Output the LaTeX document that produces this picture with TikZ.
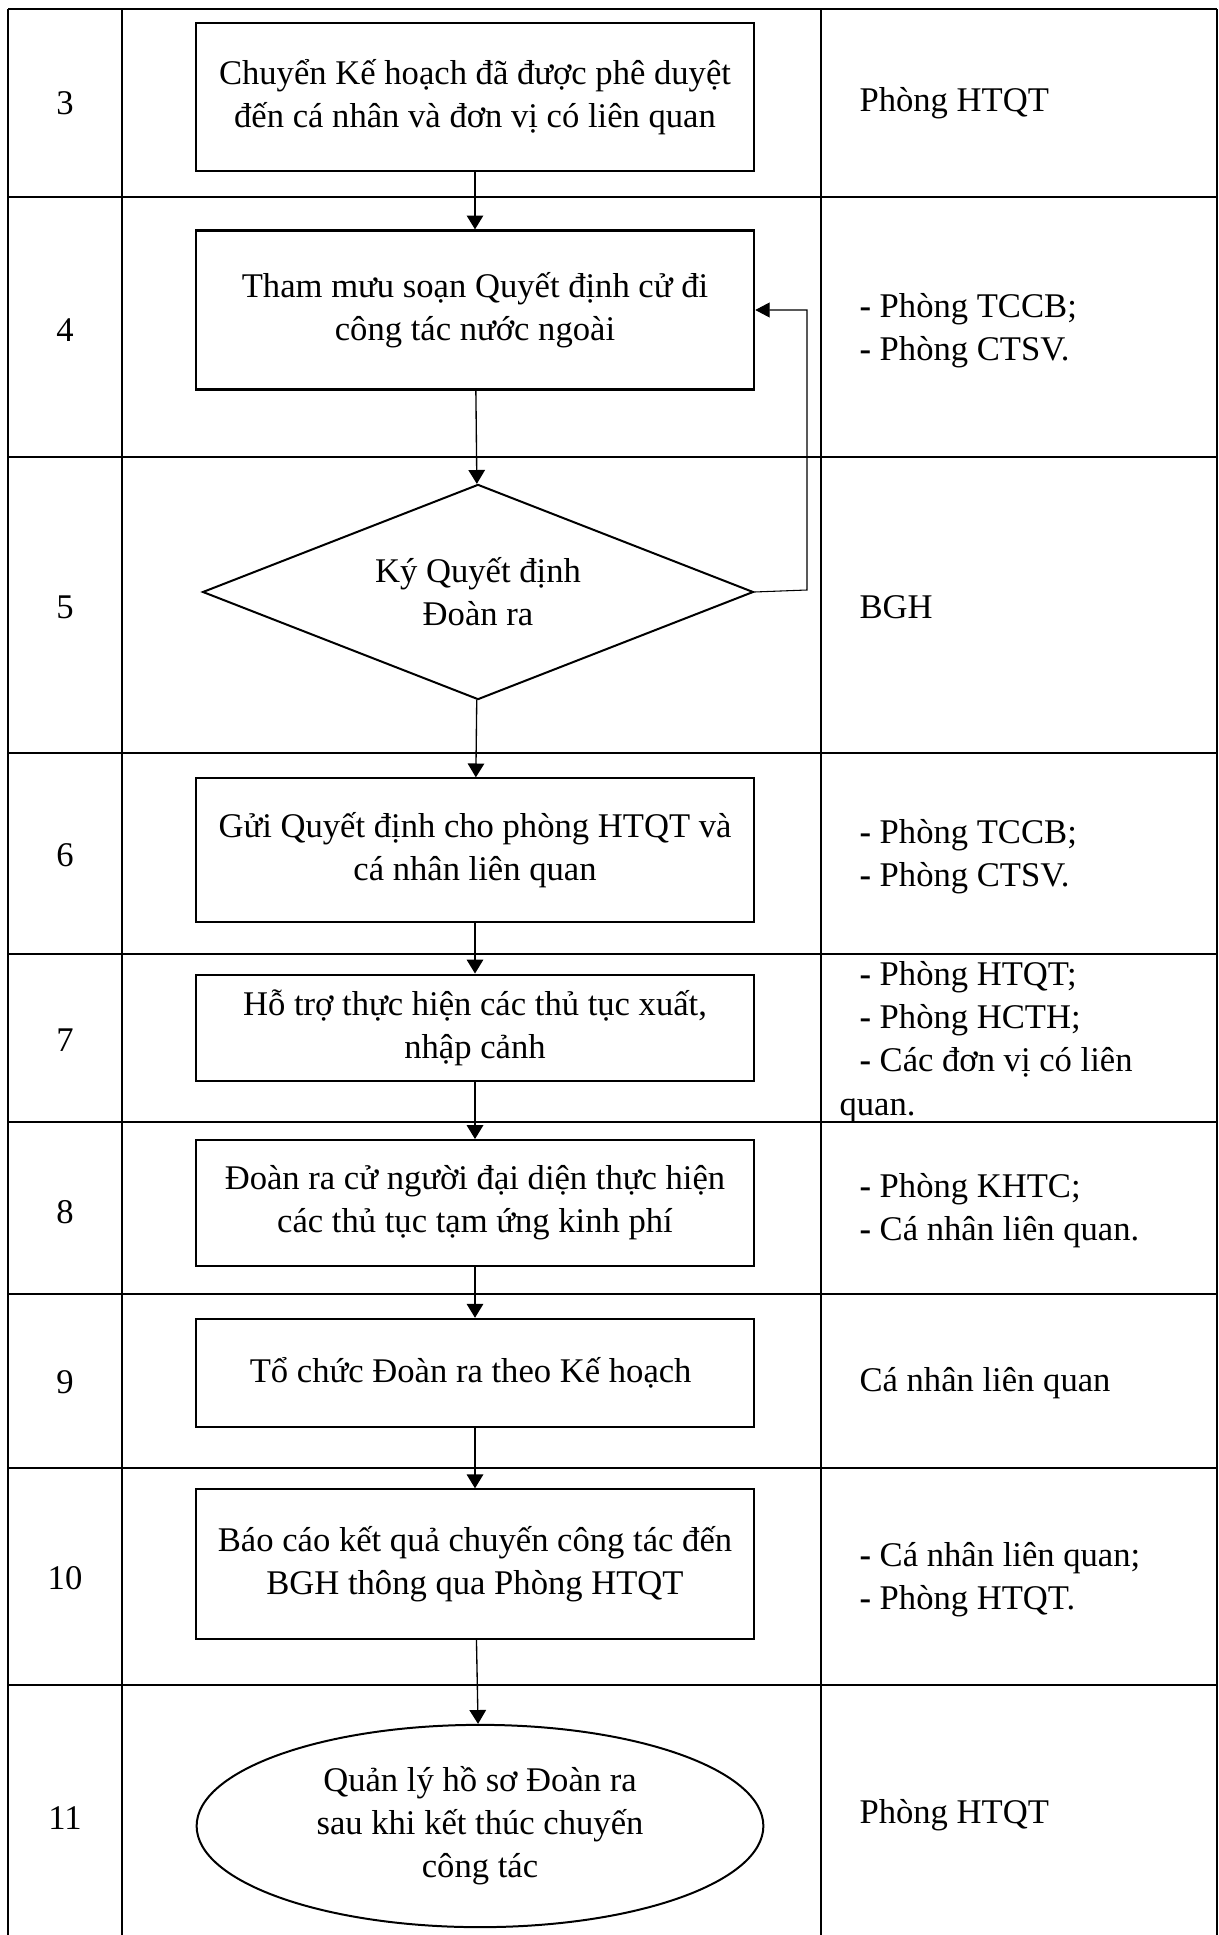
\documentclass[tikz,border=0pt]{standalone}
\usepackage{fontspec}
\setmainfont{Liberation Serif}
\usetikzlibrary{arrows.meta, shapes.geometric}

\begin{document}
\begin{tikzpicture}[
    x=0.0132cm,
    y=-0.0132cm,
    font=\fontsize{13}{16.2}\selectfont,
    stepbox/.style={
        rectangle,
        draw,
        line width=0.8pt,
        align=center,
        minimum width=7.37cm
    },
    decision/.style={
        diamond,
        draw,
        line width=0.75pt,
        align=center,
        inner sep=0pt,
        aspect=2.5,
        minimum width=7.27cm,
        minimum height=2.84cm
    },
    terminal/.style={
        ellipse,
        draw,
        line width=0.75pt,
        align=center,
        inner sep=0pt,
        minimum width=7.48cm,
        minimum height=2.67cm
    },
    num/.style={anchor=center},
    role/.style={anchor=west, align=left, inner sep=0pt},
    rowline/.style={line width=0.9pt},
    colline/.style={line width=0.55pt},
    arrow/.style={-{Triangle[length=5.2pt, width=6.2pt]}, line width=0.5pt},
    back/.style={-{Triangle[length=5.4pt, width=5.6pt]}, line width=0.4pt}
]
\useasboundingbox (0,0) rectangle (1218,1935);

% table
\foreach \yy in {9,197,457,753,954,1122,1294,1468,1685}
    \draw[rowline] (8,\yy) -- (1217,\yy);
\foreach \xx in {8,122,821,1217}
    \draw[colline] (\xx,9) -- (\xx,1935);

% step numbers
\node[num] (n3) at (65,103) {3};
\node[num] (n4) at (65,330) {4};
\node[num] (n5) at (65,607) {5};
\node[num] (n6) at (65,855) {6};
\node[num] (n7) at (65,1040) {7};
\node[num] (n8) at (65,1212) {8};
\node[num] (n9) at (65,1382) {9};
\node[num] (n10) at (65,1578) {10};
\node[num] (n11) at (65,1818) {11};

% flow
\node[stepbox, minimum height=1.95cm] (send_plan) at (475,97) {
Chuyển Kế hoạch đã được phê duyệt\\
đến cá nhân và đơn vị có liên quan
};
\node[stepbox, minimum height=2.10cm] (draft_dec) at (475,310) {
Tham mưu soạn Quyết định cử đi\\
công tác nước ngoài
};
\node[decision] (sign_dec) at (478,592) {
Ký Quyết định\\
Đoàn ra
};
\node[stepbox, minimum height=1.89cm] (send_dec) at (475,850) {
Gửi Quyết định cho phòng HTQT và\\
cá nhân liên quan
};
\node[stepbox, minimum height=1.41cm] (visa) at (475,1028) {
Hỗ trợ thực hiện các thủ tục xuất,\\
nhập cảnh
};
\node[stepbox, minimum height=1.66cm] (advance) at (475,1203) {
Đoàn ra cử người đại diện thực hiện\\
các thủ tục tạm ứng kinh phí
};
\node[stepbox, minimum height=1.43cm] (trip) at (475,1373) {
Tổ chức Đoàn ra theo Kế hoạch
};
\node[stepbox, minimum height=1.97cm] (report) at (475,1564) {
Báo cáo kết quả chuyến công tác đến\\
BGH thông qua Phòng HTQT
};
\node[terminal] (archive) at (480,1826) {
Quản lý hồ sơ Đoàn ra\\
sau khi kết thúc chuyến\\
công tác
};

% responsible units
\node[role] (r3) at (859,103) {Phòng HTQT};
\node[role] (r4) at (859,331) {\textbf{-} Phòng TCCB;\\\textbf{-} Phòng CTSV.};
\node[role] (r5) at (859,607) {BGH};
\node[role] (r6) at (859,857) {\textbf{-} Phòng TCCB;\\\textbf{-} Phòng CTSV.};
\node[role] (r7) at (839,1042) {
\hspace*{7.5pt}\textbf{-} Phòng HTQT;\\
\hspace*{7.5pt}\textbf{-} Phòng HCTH;\\
\hspace*{7.5pt}\textbf{-} Các đơn vị có liên\\
quan.
};
\node[role] (r8) at (859,1211) {\textbf{-} Phòng KHTC;\\\textbf{-} Cá nhân liên quan.};
\node[role] (r9) at (859,1383) {Cá nhân liên quan};
\node[role] (r10) at (859,1580) {\textbf{-} Cá nhân liên quan;\\\textbf{-} Phòng HTQT.};
\node[role] (r11) at (859,1815) {Phòng HTQT};

\coordinate (loop) at (807,590);

\draw[arrow] (send_plan) -- (draft_dec);
\draw[arrow] (draft_dec) -- (sign_dec);
\draw[arrow] (sign_dec) -- (send_dec);
\draw[arrow] (send_dec) -- (visa);
\draw[arrow] (visa) -- (advance);
\draw[arrow] (advance) -- (trip);
\draw[arrow] (trip) -- (report);
\draw[arrow] (report) -- (archive);
\draw[back] (sign_dec.east) -- (loop) |- (draft_dec.east);

\end{tikzpicture}
\end{document}
